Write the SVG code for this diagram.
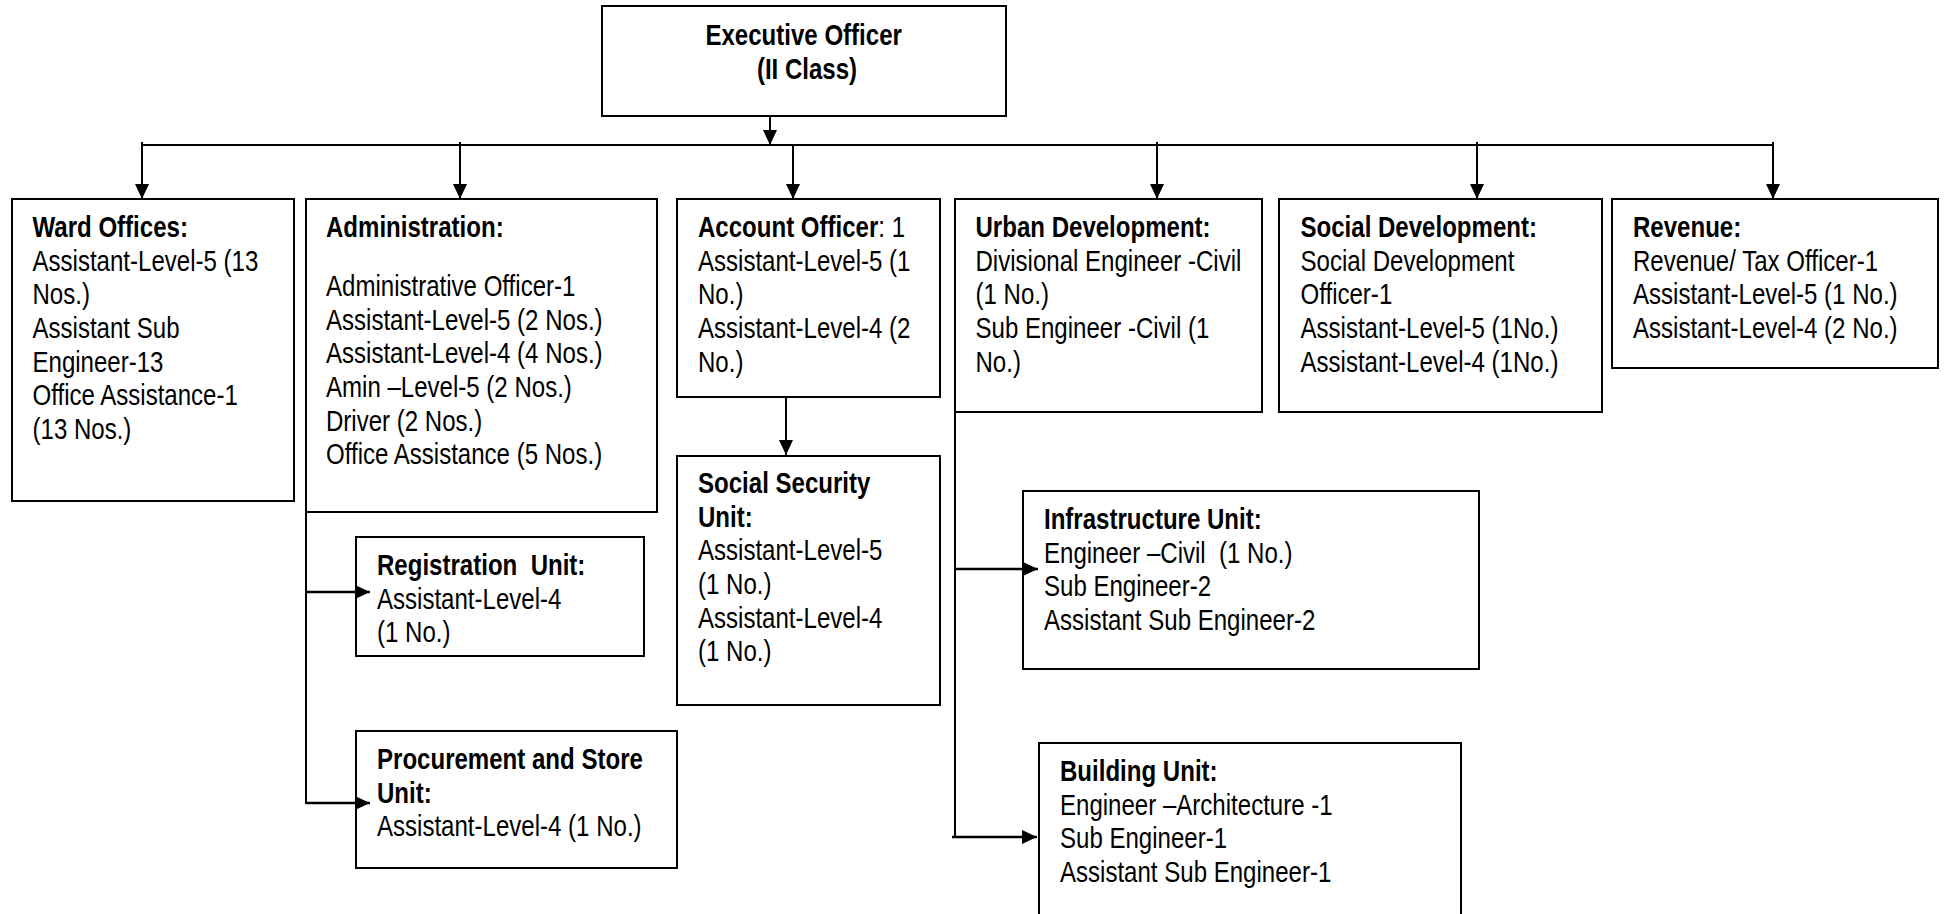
<svg xmlns="http://www.w3.org/2000/svg" width="1946" height="914" viewBox="0 0 1946 914">
  <style>
    .box { fill: #ffffff; stroke: #000000; stroke-width: 2; }
    .t { font-family: "Liberation Sans", Arial, sans-serif; font-size: 29.33px; fill: #000000; }
    .b { font-weight: bold; }
    .wire { fill: none; stroke: #000000; stroke-width: 2; }
    .wire-h { fill: none; stroke: #000000; stroke-width: 2.6; }
  </style>
  <defs>
    <marker id="arrow" markerUnits="userSpaceOnUse" markerWidth="16" markerHeight="14" refX="15" refY="7" orient="auto">
      <path d="M0,0 L15,7 L0,14 z" fill="#000000"/>
    </marker>
  </defs>

  <rect x="0" y="0" width="1946" height="914" fill="#ffffff"/>

  <!-- top level -->
  <g id="executive-officer">
    <rect class="box" x="602" y="6" width="404" height="110"/>
    <g transform="translate(807,0) scale(0.82,1)">
      <text class="t b" text-anchor="middle">
        <tspan x="0" y="45">Executive Officer</tspan>
        <tspan x="0" y="78.7">(II Class)</tspan>
      </text>
    </g>
  </g>

  <g id="ward-offices">
    <rect class="box" x="12" y="199" width="282" height="302"/>
    <g transform="translate(32.5,0) scale(0.82,1)">
      <text class="t">
        <tspan x="0" y="237" class="b">Ward Offices:</tspan>
        <tspan x="0" y="270.7">Assistant-Level-5 (13</tspan>
        <tspan x="0" y="304.4">Nos.)</tspan>
        <tspan x="0" y="338.1">Assistant Sub</tspan>
        <tspan x="0" y="371.8">Engineer-13</tspan>
        <tspan x="0" y="405.5">Office Assistance-1</tspan>
        <tspan x="0" y="439.2">(13 Nos.)</tspan>
      </text>
    </g>
  </g>

  <g id="administration">
    <rect class="box" x="306" y="199" width="351" height="313"/>
    <g transform="translate(326,0) scale(0.82,1)">
      <text class="t">
        <tspan x="0" y="237" class="b">Administration:</tspan>
        <tspan x="0" y="296">Administrative Officer-1</tspan>
        <tspan x="0" y="329.7">Assistant-Level-5 (2 Nos.)</tspan>
        <tspan x="0" y="363.4">Assistant-Level-4 (4 Nos.)</tspan>
        <tspan x="0" y="397.1">Amin –Level-5 (2 Nos.)</tspan>
        <tspan x="0" y="430.8">Driver (2 Nos.)</tspan>
        <tspan x="0" y="464.5">Office Assistance (5 Nos.)</tspan>
      </text>
    </g>
  </g>

  <g id="account-officer">
    <rect class="box" x="677" y="199" width="263" height="198"/>
    <g transform="translate(698,0) scale(0.82,1)">
      <text class="t">
        <tspan x="0" y="237"><tspan class="b">Account Officer</tspan>: 1</tspan>
        <tspan x="0" y="270.7">Assistant-Level-5 (1</tspan>
        <tspan x="0" y="304.4">No.)</tspan>
        <tspan x="0" y="338.1">Assistant-Level-4 (2</tspan>
        <tspan x="0" y="371.8">No.)</tspan>
      </text>
    </g>
  </g>

  <g id="urban-development">
    <rect class="box" x="955" y="199" width="307" height="213"/>
    <g transform="translate(975.5,0) scale(0.82,1)">
      <text class="t">
        <tspan x="0" y="237" class="b">Urban Development:</tspan>
        <tspan x="0" y="270.7">Divisional Engineer -Civil</tspan>
        <tspan x="0" y="304.4">(1 No.)</tspan>
        <tspan x="0" y="338.1">Sub Engineer -Civil (1</tspan>
        <tspan x="0" y="371.8">No.)</tspan>
      </text>
    </g>
  </g>

  <g id="social-development">
    <rect class="box" x="1279" y="199" width="323" height="213"/>
    <g transform="translate(1300.5,0) scale(0.82,1)">
      <text class="t">
        <tspan x="0" y="237" class="b">Social Development:</tspan>
        <tspan x="0" y="270.7">Social Development</tspan>
        <tspan x="0" y="304.4">Officer-1</tspan>
        <tspan x="0" y="338.1">Assistant-Level-5 (1No.)</tspan>
        <tspan x="0" y="371.8">Assistant-Level-4 (1No.)</tspan>
      </text>
    </g>
  </g>

  <g id="revenue">
    <rect class="box" x="1612" y="199" width="326" height="169"/>
    <g transform="translate(1633,0) scale(0.82,1)">
      <text class="t">
        <tspan x="0" y="237" class="b">Revenue:</tspan>
        <tspan x="0" y="270.7">Revenue/ Tax Officer-1</tspan>
        <tspan x="0" y="304.4">Assistant-Level-5 (1 No.)</tspan>
        <tspan x="0" y="338.1">Assistant-Level-4 (2 No.)</tspan>
      </text>
    </g>
  </g>

  <!-- second level -->
  <g id="social-security-unit">
    <rect class="box" x="677" y="456" width="263" height="249"/>
    <g transform="translate(698,0) scale(0.82,1)">
      <text class="t">
        <tspan x="0" y="493" class="b">Social Security</tspan>
        <tspan x="0" y="526.7" class="b">Unit:</tspan>
        <tspan x="0" y="560.4">Assistant-Level-5</tspan>
        <tspan x="0" y="594.1">(1 No.)</tspan>
        <tspan x="0" y="627.8">Assistant-Level-4</tspan>
        <tspan x="0" y="661.5">(1 No.)</tspan>
      </text>
    </g>
  </g>

  <g id="registration-unit">
    <rect class="box" x="356" y="537" width="288" height="119"/>
    <g transform="translate(377,0) scale(0.82,1)">
      <text class="t" xml:space="preserve"><tspan x="0" y="575" class="b">Registration  Unit:</tspan><tspan x="0" y="608.7">Assistant-Level-4</tspan><tspan x="0" y="642.4">(1 No.)</tspan></text>
    </g>
  </g>

  <g id="procurement-store-unit">
    <rect class="box" x="356" y="731" width="321" height="137"/>
    <g transform="translate(377,0) scale(0.82,1)">
      <text class="t">
        <tspan x="0" y="769" class="b">Procurement and Store</tspan>
        <tspan x="0" y="802.7" class="b">Unit:</tspan>
        <tspan x="0" y="836.4">Assistant-Level-4 (1 No.)</tspan>
      </text>
    </g>
  </g>

  <g id="infrastructure-unit">
    <rect class="box" x="1023" y="491" width="456" height="178"/>
    <g transform="translate(1044,0) scale(0.82,1)">
      <text class="t" xml:space="preserve"><tspan x="0" y="529" class="b">Infrastructure Unit:</tspan><tspan x="0" y="562.7">Engineer –Civil  (1 No.)</tspan><tspan x="0" y="596.4">Sub Engineer-2</tspan><tspan x="0" y="630.1">Assistant Sub Engineer-2</tspan></text>
    </g>
  </g>

  <g id="building-unit">
    <rect class="box" x="1039" y="743" width="422" height="200"/>
    <g transform="translate(1060,0) scale(0.82,1)">
      <text class="t">
        <tspan x="0" y="781" class="b">Building Unit:</tspan>
        <tspan x="0" y="814.7">Engineer –Architecture -1</tspan>
        <tspan x="0" y="848.4">Sub Engineer-1</tspan>
        <tspan x="0" y="882.1">Assistant Sub Engineer-1</tspan>
      </text>
    </g>
  </g>

  <!-- connectors, drawn last so arrowheads sit over box borders -->
  <g id="connectors">
    <line class="wire" x1="770" y1="116" x2="770" y2="145" marker-end="url(#arrow)"/>
    <line class="wire" x1="142" y1="145" x2="1773" y2="145"/>
    <line class="wire" x1="142" y1="142" x2="142" y2="199" marker-end="url(#arrow)"/>
    <line class="wire" x1="460" y1="142" x2="460" y2="199" marker-end="url(#arrow)"/>
    <line class="wire" x1="793" y1="145" x2="793" y2="199" marker-end="url(#arrow)"/>
    <line class="wire" x1="1157" y1="142" x2="1157" y2="199" marker-end="url(#arrow)"/>
    <line class="wire" x1="1477" y1="142" x2="1477" y2="199" marker-end="url(#arrow)"/>
    <line class="wire" x1="1773" y1="142" x2="1773" y2="199" marker-end="url(#arrow)"/>
    <line class="wire" x1="786" y1="397" x2="786" y2="455" marker-end="url(#arrow)"/>
    <line class="wire" x1="306" y1="511" x2="306" y2="804"/>
    <line class="wire-h" x1="306" y1="592" x2="370" y2="592" marker-end="url(#arrow)"/>
    <line class="wire-h" x1="306" y1="803" x2="370" y2="803" marker-end="url(#arrow)"/>
    <line class="wire" x1="955" y1="411" x2="955" y2="838"/>
    <line class="wire-h" x1="955" y1="569" x2="1038" y2="569" marker-end="url(#arrow)"/>
    <line class="wire-h" x1="952" y1="837" x2="1037" y2="837" marker-end="url(#arrow)"/>
  </g>
</svg>
